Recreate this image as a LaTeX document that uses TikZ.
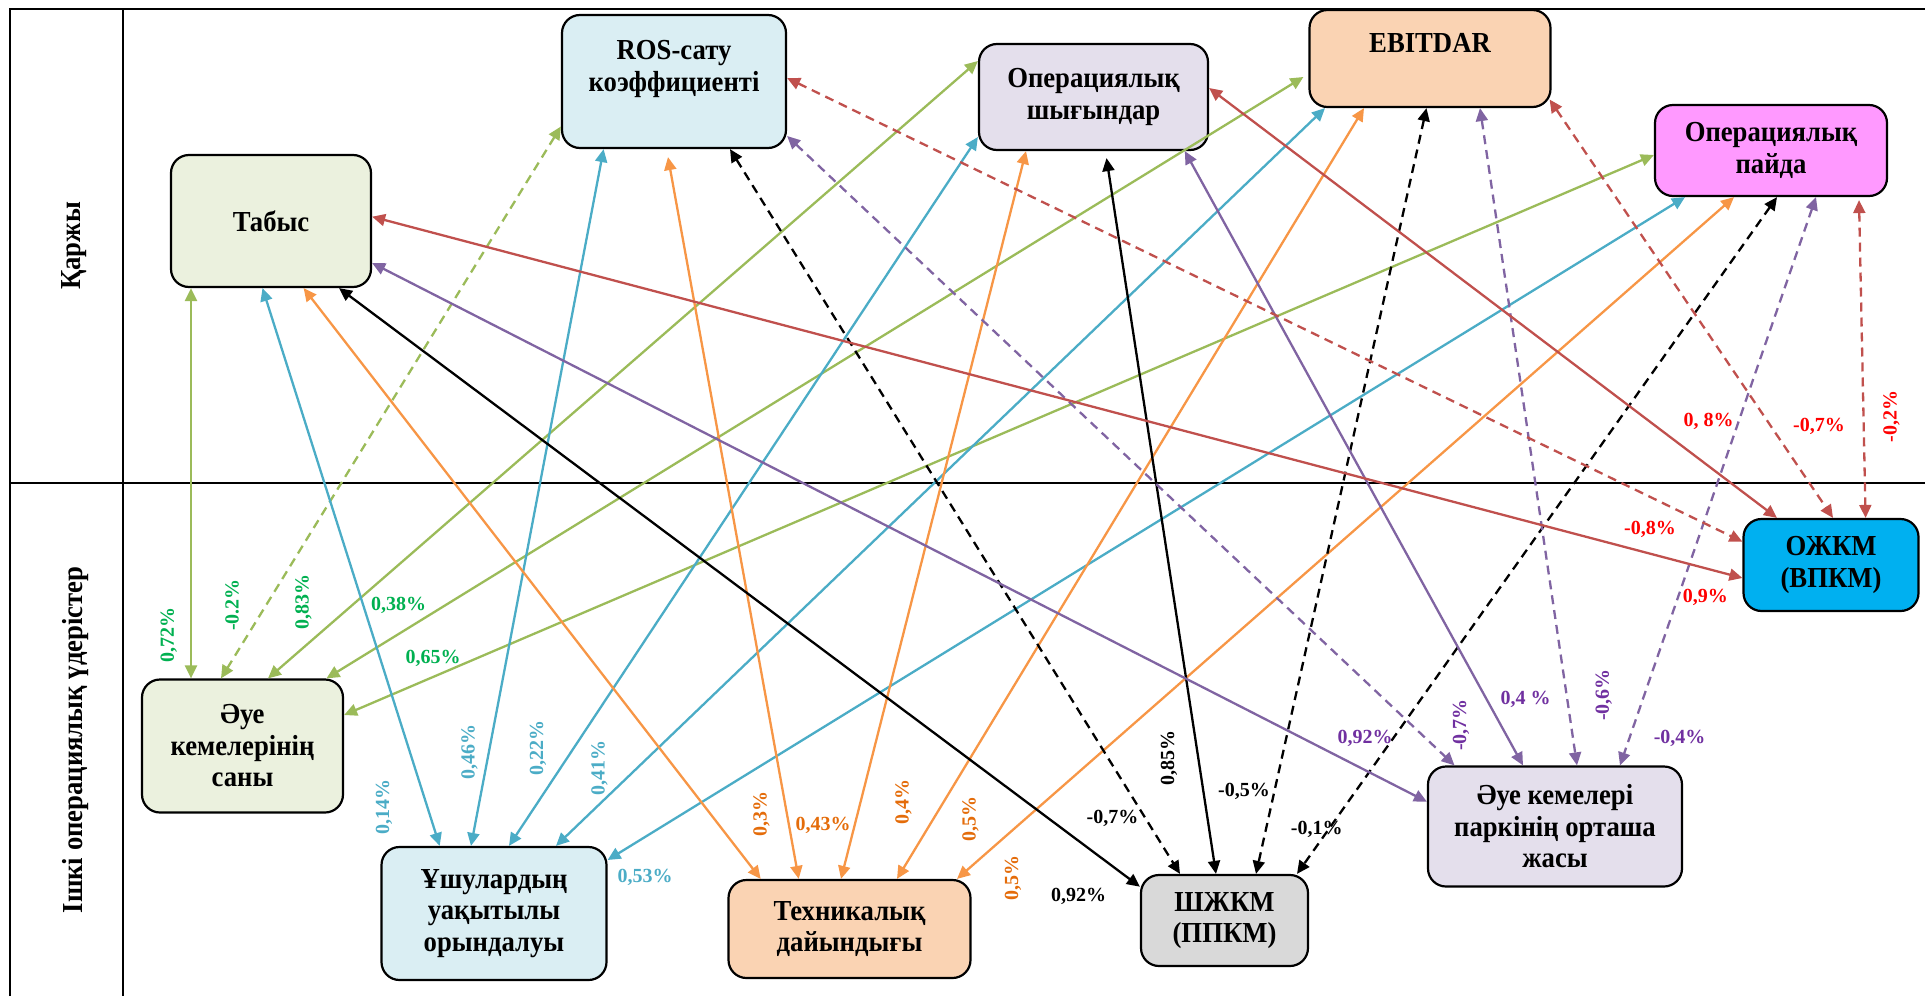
\documentclass[tikz,border=0pt]{standalone}
\usepackage{fontspec}
\setmainfont{Liberation Serif}
\newfontfamily\boxfont[FakeStretch=0.92]{Liberation Serif}
\usetikzlibrary{arrows.meta}
\definecolor{lgreen}{HTML}{9BBB59}
\definecolor{lblue}{HTML}{4BACC6}
\definecolor{lorange}{HTML}{F79646}
\definecolor{lpurple}{HTML}{8064A2}
\definecolor{lred}{HTML}{C0504D}
\definecolor{tgreen}{HTML}{00B050}
\definecolor{torange}{HTML}{E46C0A}
\definecolor{tpurple}{HTML}{7030A0}
\definecolor{tred}{HTML}{FF0000}
\definecolor{fgreen}{HTML}{EBF1DE}
\definecolor{fblue}{HTML}{DAEEF3}
\definecolor{flav}{HTML}{E4DFEC}
\definecolor{fpeach}{HTML}{FAD3B3}
\definecolor{fpink}{HTML}{FF99FF}
\definecolor{fgray}{HTML}{D9D9D9}
\definecolor{fcyan}{HTML}{00B0F0}
\begin{document}
\begin{tikzpicture}[x=1pt,y=-1pt,
  box/.style={draw=black, line width=2.2pt, rounded corners=18pt, font=\boxfont\bfseries\fontsize{29}{31.5}\selectfont, align=center, inner sep=0pt},
  conn/.style={line width=2.3pt, {Triangle[length=13pt,width=12pt]}-{Triangle[length=13pt,width=12pt]}},
  neg/.style={conn, dash pattern=on 9pt off 6pt},
  lab/.style={font=\bfseries\fontsize{20}{22}\selectfont, inner sep=0pt},
  vlab/.style={lab, rotate=90},
  sect/.style={font=\boxfont\bfseries\fontsize{29}{31}\selectfont, rotate=90, inner sep=0pt},
  frame/.style={line width=2.5pt}
]
\useasboundingbox (0,0) rectangle (1925,996);

% frame
\coordinate (ftl) at (10,9);
\coordinate (ftr) at (1925,9);
\coordinate (fbl) at (10,996);
\coordinate (dtop) at (123,9);
\coordinate (dbot) at (123,996);
\coordinate (hl) at (10,483);
\coordinate (hr) at (1925,483);
\draw[frame] (fbl) -- (ftl) -- (ftr);
\draw[frame] (dtop) -- (dbot);
\draw[frame] (hl) -- (hr);
\node[sect] (fin) at (74,246) {Қаржы};
\node[sect] (proc) at (76,740) {Ішкі операциялық үдерістер};

% boxes
\node[box, fill=fgreen, minimum width=200pt, minimum height=132pt] (tab) at (271,221) {Табыс};
\node[box, fill=fblue, minimum width=224pt, minimum height=133pt] (ros) at (674,81.5) {ROS-сату\\коэффициенті\\~};
\node[box, fill=flav, minimum width=229pt, minimum height=106pt] (opx) at (1093.5,97) {Операциялық\\шығындар};
\node[box, fill=fpeach, minimum width=241pt, minimum height=97pt] (ebit) at (1430,58.5) {EBITDAR\\~};
\node[box, fill=fpink, minimum width=232pt, minimum height=91pt] (opp) at (1771,150.5) {Операциялық\\пайда};
\node[box, fill=fgreen, minimum width=201pt, minimum height=133pt] (ac) at (242.5,746) {Әуе\\кемелерінің\\саны};
\node[box, fill=fblue, minimum width=225pt, minimum height=133pt] (ush) at (494,913.5) {Ұшулардың\\уақытылы\\орындалуы};
\node[box, fill=fpeach, minimum width=242pt, minimum height=98pt] (tech) at (849.5,929) {Техникалық\\дайындығы};
\node[box, fill=fgray, minimum width=167pt, minimum height=91pt] (shk) at (1224.5,920.5) {ШЖКМ\\(ППКМ)};
\node[box, fill=flav, minimum width=254pt, minimum height=120pt] (park) at (1555,826.5) {Әуе кемелері\\паркінің орташа\\жасы};
\node[box, fill=fcyan, minimum width=175pt, minimum height=92pt] (ozh) at (1831,565) {ОЖКМ\\(ВПКМ)};

% green connectors
\draw[conn, lgreen] ([xshift=-80pt]tab.south) -- ([xshift=-51.5pt]ac.north);
\draw[neg, lgreen] ([yshift=-45pt]ros.west) -- ([xshift=-21.5pt]ac.north);
\draw[conn, lgreen] ([yshift=36pt]opx.west) -- ([xshift=25.5pt]ac.north);
\draw[conn, lgreen] ([xshift=-5pt,yshift=-18.5pt]ebit.west) -- ([xshift=84pt]ac.north);
\draw[conn, lgreen] ([yshift=-4.5pt]opp.west) -- ([yshift=31pt]ac.east);

% blue connectors
\draw[conn, lblue] ([xshift=-8.5pt]tab.south) -- ([xshift=-54.3pt]ush.north);
\draw[conn, lblue] ([xshift=-70.4pt]ros.south) -- ([xshift=-23pt]ush.north);
\draw[conn, lblue] ([yshift=-40pt]opx.west) -- ([xshift=15pt]ush.north);
\draw[conn, lblue] ([xshift=-105pt]ebit.south) -- ([xshift=62pt]ush.north);
\draw[conn, lblue] ([xshift=-86pt]opp.south) -- ([yshift=53.5pt]ush.east);

% orange connectors
\draw[conn, lorange] ([xshift=32.6pt]tab.south) -- ([xshift=-88.8pt]tech.north);
\draw[conn, lorange] ([xshift=-6pt,yshift=-8pt]ros.south) -- ([xshift=-50.8pt]tech.north);
\draw[conn, lorange] ([xshift=-67.5pt]opx.south) -- ([xshift=-8.5pt]tech.north);
\draw[conn, lorange] ([xshift=-66pt]ebit.south) -- ([xshift=47.5pt]tech.north);
\draw[conn, lorange] ([xshift=-37pt]opp.south) -- ([xshift=107.5pt]tech.north);

% black connectors
\draw[conn, black] ([xshift=68pt]tab.south) -- ([yshift=33.8pt]shk.west);
\draw[neg, black] ([xshift=56pt]ros.south) -- ([xshift=-44.5pt]shk.north);
\draw[conn, black] ([xshift=13pt,yshift=-7pt]opx.south) -- ([xshift=-8.5pt]shk.north);
\draw[neg, black] ([xshift=-3.5pt]ebit.south) -- ([xshift=31.5pt]shk.north);
\draw[neg, black] ([xshift=6pt]opp.south) -- ([xshift=72.5pt]shk.north);

% purple connectors
\draw[conn, lpurple] ([yshift=-42pt]tab.east) -- ([yshift=24.8pt]park.west);
\draw[neg, lpurple] ([yshift=-54.5pt]ros.east) -- ([xshift=-100.5pt]park.north);
\draw[conn, lpurple] ([xshift=91.3pt]opx.south) -- ([xshift=-32pt]park.north);
\draw[neg, lpurple] ([xshift=50pt]ebit.south) -- ([xshift=22pt]park.north);
\draw[neg, lpurple] ([xshift=45pt]opp.south) -- ([xshift=65pt]park.north);

% red connectors
\draw[conn, lred] ([yshift=4.3pt]tab.east) -- ([yshift=-13pt]ozh.west);
\draw[neg, lred] ([yshift=3.5pt]ros.east) -- ([yshift=23.3pt]ozh.west);
\draw[conn, lred] ([yshift=9pt]opx.east) -- ([xshift=-54pt]ozh.north);
\draw[neg, lred] ([xshift=-2pt,yshift=-41pt]ebit.east) -- ([xshift=2pt]ozh.north);
\draw[neg, lred] ([xshift=88pt,yshift=-3pt]opp.south) -- ([xshift=34.6pt]ozh.north);

% green labels
\node[vlab, tgreen] (g1) at (168.7,635) {0,72\%};
\node[vlab, tgreen] (g2) at (232,605) {-0.2\%};
\node[vlab, tgreen] (g3) at (303.6,601.7) {0,83\%};
\node[lab, tgreen] (g4) at (398.7,605) {0,38\%};
\node[lab, tgreen] (g5) at (433,658) {0,65\%};

% blue labels
\node[vlab, lblue] (b1) at (384,806.7) {0,14\%};
\node[vlab, lblue] (b2) at (469.6,751.7) {0,46\%};
\node[vlab, lblue] (b3) at (538,748) {0,22\%};
\node[vlab, lblue] (b4) at (599.6,768) {0,41\%};
\node[lab, lblue] (b5) at (645,877) {0,53\%};

% orange labels
\node[vlab, torange] (o1) at (761.6,814) {0,3\%};
\node[lab, torange] (o2) at (823,825) {0,43\%};
\node[vlab, torange] (o3) at (903.6,801.7) {0,4\%};
\node[vlab, torange] (o4) at (970.5,819) {0,5\%};
\node[vlab, torange] (o5) at (1013,878) {0,5\%};

% black labels
\node[lab, black] (k1) at (1078.6,896) {0,92\%};
\node[lab, black] (k2) at (1112.5,818) {-0,7\%};
\node[vlab, black] (k3) at (1169,758) {0,85\%};
\node[lab, black] (k4) at (1244,791.7) {-0,5\%};
\node[lab, black] (k5) at (1316.7,829) {-0,1\%};

% purple labels
\node[lab, tpurple] (p1) at (1365,738) {0,92\%};
\node[vlab, tpurple] (p2) at (1461,725) {-0,7\%};
\node[lab, tpurple] (p3) at (1525.5,699) {0,4 \%};
\node[vlab, tpurple] (p4) at (1603.8,695) {-0,6\%};
\node[lab, tpurple] (p5) at (1679.6,738) {-0,4\%};

% red labels
\node[lab, tred] (r1) at (1705.4,597) {0,9\%};
\node[lab, tred] (r2) at (1650,529) {-0,8\%};
\node[lab, tred] (r3) at (1708.5,421.7) {0, 8\%};
\node[lab, tred] (r4) at (1819,426) {-0,7\%};
\node[vlab, tred] (r5) at (1891.4,416.7) {-0,2\%};
\end{tikzpicture}
\end{document}
